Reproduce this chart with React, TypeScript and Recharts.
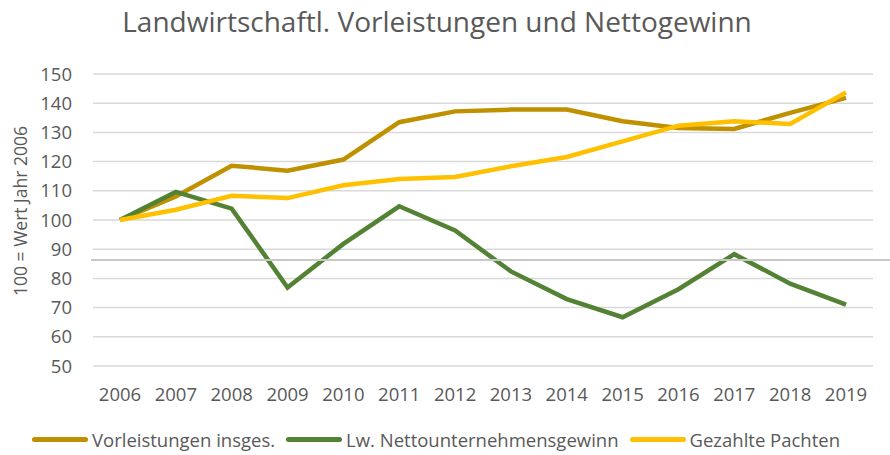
import React from "react";
import {
    LineChart,
    Line,
    XAxis,
    YAxis,
    CartesianGrid,
} from "recharts";

const years = ["2006", "2007", "2008", "2009", "2010", "2011", "2012", "2013", "2014", "2015", "2016", "2017", "2018", "2019"];
const vorleistungen = [100, 108.1, 118.6, 116.9, 120.7, 133.5, 137.2, 137.8, 137.8, 133.8, 131.5, 131.2, 136.7, 141.8];
const nettogewinn = [100, 109.6, 103.9, 76.9, 91.8, 104.7, 96.4, 82.4, 72.9, 66.7, 76.3, 88.3, 78.2, 71.0];
const pachten = [100, 103.5, 108.3, 107.5, 111.9, 114.0, 114.7, 118.4, 121.6, 126.9, 132.3, 133.8, 132.9, 143.7];
const yTicks = [50, 60, 70, 80, 90, 100, 110, 120, 130, 140, 150];

const FONT = "'Open Sans', sans-serif";
const TEXT = "#595959";

const SERIES = [
    { key: "vorleistungen", name: "Vorleistungen insges.", color: "#BF9000" },
    { key: "nettogewinn", name: "Lw. Nettounternehmensgewinn", color: "#548235" },
    { key: "pachten", name: "Gezahlte Pachten", color: "#FFC000" },
];

const data = years.map((y, i) => ({
    year: y,
    vorleistungen: vorleistungen[i],
    nettogewinn: nettogewinn[i],
    pachten: pachten[i],
}));

// rotated y-axis caption, placed like the Excel original
const yLabel = () => (
    <text
        x={20}
        y={211}
        transform="rotate(-90 20 211)"
        textAnchor="middle"
        dominantBaseline="central"
        fill={TEXT}
        fontSize={17.5}
        fontFamily={FONT}
    >
        100 = Wert Jahr 2006
    </text>
);

export default function App() {
    return (
        <div style={{ position: "absolute", left: 0, top: 0, width: 890, height: 455, background: "#fff", fontFamily: FONT }}>
            <div style={{ position: "absolute", left: 0, width: 874, top: 2, textAlign: "center", fontSize: 28, color: TEXT, whiteSpace: "nowrap" }}>
                Landwirtschaftl. Vorleistungen und Nettogewinn
            </div>
            <LineChart width={890} height={455} data={data} margin={{ top: 74, right: 17, bottom: 59, left: 0 }}>
                <CartesianGrid vertical={false} stroke="#d9d9d9" strokeWidth={1.5} />
                <XAxis
                    dataKey="year"
                    height={30}
                    axisLine={false}
                    tickLine={false}
                    tickSize={0}
                    tickMargin={22}
                    padding={{ left: 27, right: 27 }}
                    tick={{ fill: TEXT, fontSize: 18.5, fontFamily: FONT }}
                    interval={0}
                />
                <YAxis
                    width={93}
                    domain={[50, 150]}
                    ticks={yTicks}
                    interval={0}
                    axisLine={false}
                    tickLine={false}
                    tickSize={0}
                    tickMargin={21}
                    tick={{ fill: TEXT, fontSize: 18.5, fontFamily: FONT }}
                    label={yLabel}
                />
                {SERIES.map((s) => (
                    <Line
                        key={s.key}
                        dataKey={s.key}
                        name={s.name}
                        stroke={s.color}
                        strokeWidth={4.5}
                        dot={false}
                        type="linear"
                        isAnimationActive={false}
                    />
                ))}
            </LineChart>
            <div style={{ position: "absolute", left: 91, top: 259, width: 799, height: 2, background: "#c8c8c8" }} />
            <div style={{ position: "absolute", left: 32, top: 427, display: "flex", alignItems: "center", fontSize: 18.5, color: TEXT, whiteSpace: "nowrap" }}>
                {SERIES.map((s) => (
                    <div key={s.key} style={{ display: "flex", alignItems: "center", marginRight: 11 }}>
                        <span style={{ display: "inline-block", width: 56, height: 5, borderRadius: 3, background: s.color, marginRight: 4 }} />
                        <span>{s.name}</span>
                    </div>
                ))}
            </div>
        </div>
    );
}
